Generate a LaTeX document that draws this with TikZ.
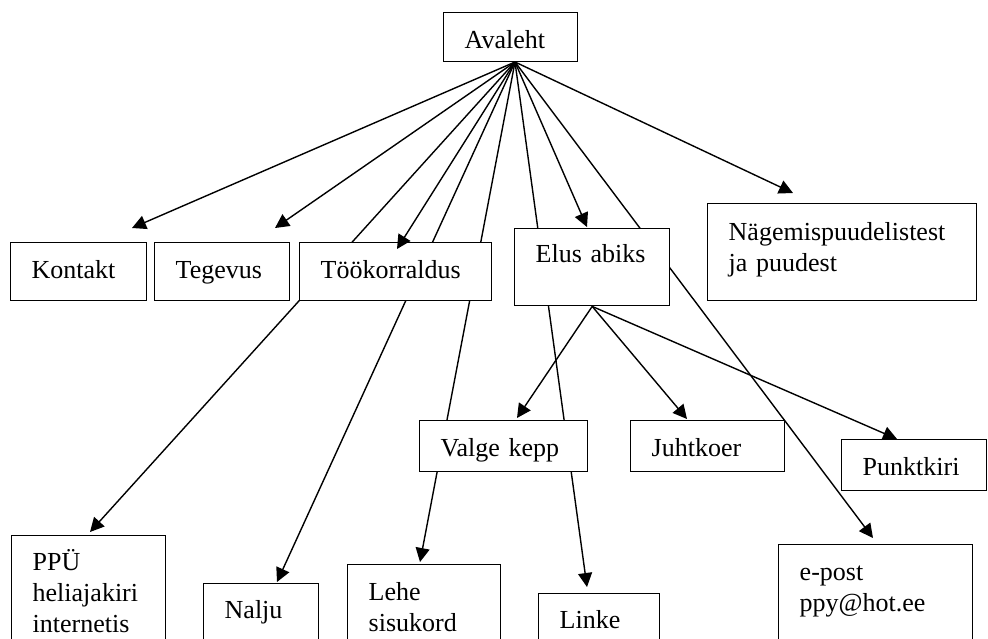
\documentclass[tikz,border=0pt]{standalone}
\usepackage{fontspec}
\setmainfont{Liberation Serif}
\usetikzlibrary{arrows.meta}
\usetikzlibrary{backgrounds}
\hyphenpenalty=10000
\exhyphenpenalty=10000

\begin{document}
\begin{tikzpicture}[x=1pt, y=-1pt,
every node/.style={draw, fill=white, line width=1.4pt, anchor=north west,
align=left, inner xsep=21pt, inner ysep=0pt, font=\fontsize{26}{31}\selectfont},
box/.style n args={3}{text width=#1, text height=#2, text depth=#3},
link/.style={line width=1.4pt, -{Triangle[length=14pt, width=14pt]}}]
\useasboundingbox (0,0) rectangle (988,638);
\clip (0,0) rectangle (988,638);

% boxes
\node[box={92pt}{36pt}{13pt}] (ava) at (443,12) {Avaleht};
\node[box={94pt}{36pt}{22pt}] (kontakt) at (10,242) {Kontakt};
\node[box={93pt}{36pt}{22pt}] (tegevus) at (154,242) {Tegevus};
\node[box={150pt}{36pt}{22pt}] (too) at (299,242) {Töökorraldus};
\node[box={113pt}{34pt}{43pt}] (elus) at (514,228) {Elus abiks};
\node[box={227pt}{37pt}{60pt}] (nagem) at (707,203) {Nägemispuudelistest\\ja puudest};
\node[box={126pt}{36pt}{15pt}] (valge) at (419,420) {Valge kepp};
\node[box={112pt}{36pt}{15pt}] (juht) at (630,420) {Juhtkoer};
\node[box={103pt}{36pt}{15pt}] (punkt) at (841,439) {Punktkiri};
\node[box={112pt}{35pt}{90pt}] (ppu) at (11,535) {PPÜ\\heliajakiri\\internetis};
\node[box={73pt}{35pt}{70pt}] (nalju) at (203,583) {Nalju};
\node[box={111pt}{36pt}{80pt}] (lehe) at (347,564) {Lehe\\sisukord};
\node[box={79pt}{35pt}{50pt}] (linke) at (538,593) {Linke};
\node[box={152pt}{36pt}{100pt}] (epost) at (778,544) {e-post\\ppy@hot.ee};

% arrow ends
\coordinate (hub) at (515,62);
\coordinate (kontakt-in) at (132,228);
\coordinate (tegevus-in) at (275,228);
\coordinate (too-in) at (397,249);
\coordinate (elus-in) at (587,227);
\coordinate (nagem-in) at (793,193);
\coordinate (ppu-in) at (90,532);
\coordinate (nalju-in) at (277,582);
\coordinate (lehe-in) at (420,562);
\coordinate (linke-in) at (587,587);
\coordinate (epost-in) at (873,538);
\coordinate (valge-in) at (517,418);
\coordinate (juht-in) at (687,419);
\coordinate (punkt-in) at (897,439);

\begin{scope}[on background layer]
\foreach \t in {ppu, nalju, lehe, linke, epost}{
\draw[link] (hub) -- (\t-in);}
\end{scope}
\foreach \t in {kontakt, tegevus, too, elus, nagem}{
\draw[link] (hub) -- (\t-in);}
\foreach \t in {valge, juht, punkt}{
\draw[link] (elus.south) -- (\t-in);}
\end{tikzpicture}
\end{document}
